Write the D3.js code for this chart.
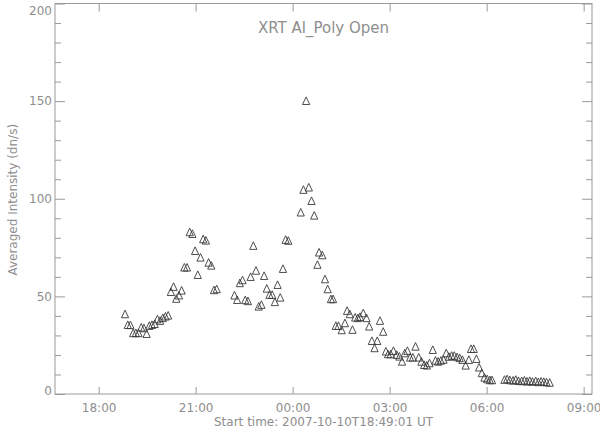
<!DOCTYPE html>
<html>
<head>
<meta charset="utf-8">
<script src="https://cdn.jsdelivr.net/npm/d3@7"></script>
<style>
  body { margin: 0; background: #fff; }
  text { font-family: "DejaVu Sans", sans-serif; fill: #8e8e8e; }
</style>
</head>
<body>
<div id="chart"></div>
<script>
// observation start and elapsed minutes for each exposure
const startTime = "2007-10-10T18:49:01Z";
const elapsedMin = [
  0, 5, 10, 15, 20, 25, 30, 35, 40, 45, 50, 55, 60, 65, 70, 75, 80,
  85, 90, 95, 100, 105, 110, 115, 120, 125, 130, 135, 140, 145, 150, 155, 160, 165, 170,
  203, 208, 213, 218, 223, 228, 233, 238, 243, 248, 253, 258, 263, 268, 273, 278, 283, 288, 293, 298, 303,
  326, 331, 336, 341, 346, 351, 357, 360, 366, 371, 376, 382, 386, 391, 396, 402, 408, 412, 417, 422,
  427, 432, 436, 442, 448, 453, 458, 463, 468, 473, 479, 484, 488, 493, 498, 504, 509, 514, 519, 524,
  529, 534, 539, 545, 550, 555, 560, 565, 571, 576, 581, 586, 591, 596, 601, 606, 611, 616, 621, 626,
  632, 638, 642, 647, 652, 657, 662, 667, 672, 677, 681,
  704, 709, 714, 720, 725, 730, 736, 741, 746, 751, 756, 762, 767, 772, 777, 782, 788
];
const intensity = [
  40.8, 35.3, 35.2, 31.1, 31.1, 31.1, 34.0, 33.6, 30.7, 34.8, 35.3, 35.8, 38.2, 37.4, 38.8, 39.6, 40.1,
  52.2, 54.8, 48.7, 50.4, 52.9, 64.7, 64.7, 82.8, 81.9, 73.2, 60.9, 69.8, 79.2, 78.5, 67.2, 65.7, 53.1, 53.6,
  50.4, 48.1, 56.7, 58.2, 48.0, 47.5, 59.9, 75.8, 63.1, 44.7, 45.6, 60.4, 53.9, 50.7, 50.7, 47.0, 55.8, 49.3, 64.0, 78.9, 78.4,
  92.9, 104.5, 150.0, 105.7, 98.8, 91.3, 66.1, 72.4, 71.0, 58.7, 53.6, 48.5, 48.5, 34.8, 34.8, 32.6, 36.2, 42.5, 40.8, 32.8,
  39.1, 38.8, 39.4, 41.3, 38.8, 34.5, 27.1, 23.4, 27.1, 37.4, 31.8, 21.7, 20.3, 20.3, 22.0, 20.0, 19.1, 16.5, 20.8, 22.0,
  18.6, 18.6, 24.2, 18.6, 16.5, 14.8, 14.5, 15.7, 22.5, 17.0, 16.5, 17.0, 17.5, 20.8, 19.0, 19.5, 19.5, 18.8, 18.3, 17.4,
  14.5, 17.4, 23.0, 23.0, 17.9, 13.5, 10.6, 8.3, 7.5, 7.0, 7.0,
  7.2, 7.5, 7.0, 6.8, 7.2, 6.6, 6.5, 6.8, 6.3, 6.6, 6.2, 6.5, 6.0, 6.3, 6.1, 5.9, 5.7
];
const yTicks = [0, 50, 100, 150, 200];
const title = "XRT Al_Poly Open";
const xTitle = "Start time: 2007-10-10T18:49:01 UT";
const yTitle = "Averaged Intensity (dn/s)";

const width = 600, height = 430;
const margin = {top: 3.5, right: 8, bottom: 36, left: 55};

const svg = d3.select("#chart").append("svg")
    .attr("width", width)
    .attr("height", height);

const t0 = new Date(startTime);
const points = elapsedMin.map((m, i) => ({
    time: new Date(t0.getTime() + m * 60000),
    value: intensity[i]
}));

const x = d3.scaleUtc()
    .domain([new Date("2007-10-10T16:39:00Z"), new Date("2007-10-11T09:15:30Z")])
    .range([margin.left, width - margin.right]);

const y = d3.scaleLinear()
    .domain([0, 200])
    .range([height - margin.bottom, margin.top]);

const axisColor = "#9a9a9a";
const hourTicks = d3.utcHour.every(3).range(x.domain()[0], x.domain()[1]);

// bottom axis with labels
svg.append("g")
    .attr("transform", "translate(0," + y(0) + ")")
    .call(d3.axisBottom(x).tickValues(hourTicks).tickFormat(d3.utcFormat("%H:%M"))
        .tickSizeInner(-7).tickSizeOuter(0).tickPadding(9));
// top axis, ticks only
svg.append("g")
    .attr("transform", "translate(0," + y(200) + ")")
    .call(d3.axisTop(x).tickValues(hourTicks).tickFormat("")
        .tickSizeInner(-8).tickSizeOuter(0));

// y axes: minor ticks every 10, majors every 50
const minor = d3.range(0, 201, 10).filter(v => v % 50 !== 0);
const gy = svg.append("g")
    .attr("transform", "translate(" + x.range()[0] + ",0)")
    .call(d3.axisLeft(y).tickValues(yTicks).tickSizeInner(-10).tickSizeOuter(0).tickPadding(3));
svg.append("g")
    .attr("transform", "translate(" + x.range()[0] + ",0)")
    .call(d3.axisLeft(y).tickValues(minor).tickFormat("").tickSizeInner(-6).tickSizeOuter(0));
svg.append("g")
    .attr("transform", "translate(" + x.range()[1] + ",0)")
    .call(d3.axisRight(y).tickValues(yTicks).tickFormat("").tickSizeInner(-10).tickSizeOuter(0));
svg.append("g")
    .attr("transform", "translate(" + x.range()[1] + ",0)")
    .call(d3.axisRight(y).tickValues(minor).tickFormat("").tickSizeInner(-6).tickSizeOuter(0));

svg.selectAll(".domain").remove();
svg.selectAll(".tick line").attr("stroke", axisColor);
svg.selectAll(".tick text")
    .style("font-family", "'DejaVu Sans', sans-serif")
    .style("font-size", "12px")
    .attr("fill", "#8e8e8e");
// keep end labels inside the window like the original
gy.selectAll(".tick text")
    .attr("dy", d => d === 200 ? "0.9em" : (d === 0 ? "0" : "0.32em"));

svg.append("rect")
    .attr("x", x.range()[0])
    .attr("y", y(200))
    .attr("width", x.range()[1] - x.range()[0])
    .attr("height", y(0) - y(200))
    .attr("fill", "none")
    .attr("stroke", axisColor)
    .attr("stroke-width", 1);

// triangle markers
const tri = "M0,-4.2L3.6,3.4L-3.6,3.4Z";
svg.append("g").selectAll("path")
    .data(points)
    .enter().append("path")
    .attr("d", tri)
    .attr("transform", d => "translate(" + x(d.time) + "," + y(d.value) + ")")
    .attr("fill", "none")
    .attr("stroke", "#3a3a3a")
    .attr("stroke-width", 0.9);

svg.append("text")
    .attr("x", (x.range()[0] + x.range()[1]) / 2)
    .attr("y", 33)
    .attr("text-anchor", "middle")
    .style("font-size", "15px")
    .text(title);

svg.append("text")
    .attr("x", (x.range()[0] + x.range()[1]) / 2)
    .attr("y", 426)
    .attr("text-anchor", "middle")
    .style("font-size", "12px")
    .text(xTitle);

svg.append("text")
    .attr("transform", "translate(17," + (y(100) + 1) + ")rotate(-90)")
    .attr("text-anchor", "middle")
    .style("font-size", "12px")
    .text(yTitle);
</script>
</body>
</html>
